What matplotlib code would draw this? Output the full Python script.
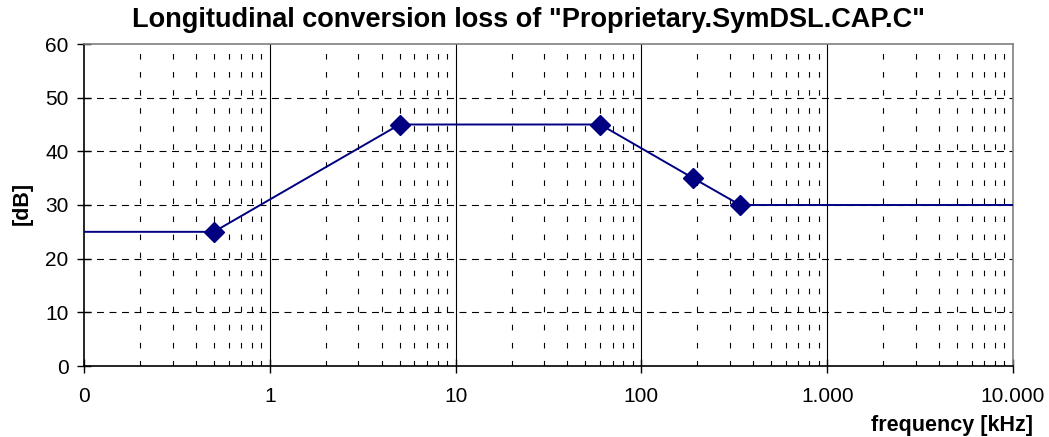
import numpy as np
import matplotlib
matplotlib.use("Agg")
from matplotlib import pyplot as plt
from matplotlib.ticker import FixedLocator, LogLocator, NullFormatter

plt.rcParams['font.family'] = ['Liberation Sans', 'DejaVu Sans']
plt.rcParams['lines.scale_dashes'] = False

# data
freq_khz = [0.1, 0.5, 5, 60, 190, 340, 10000]
loss_db = [25, 25, 45, 45, 35, 30, 30]
marked = [1, 2, 3, 4, 5]  # points that carry a diamond

x_ticks = [0.1, 1, 10, 100, 1000, 10000]
x_labels = ['0', '1', '10', '100', '1.000', '10.000']
y_ticks = [0, 10, 20, 30, 40, 50, 60]

fig = plt.figure(figsize=(10.49, 4.37), dpi=100)
ax = fig.add_axes([84/1049, 1 - 366/437, (1013 - 84)/1049, (366 - 44)/437])

ax.set_xscale('log')
ax.set_xlim(0.1, 10000)
ax.set_ylim(0, 60)

# gridlines
for y in y_ticks[1:-1]:
    ax.axhline(y, color='black', lw=0.8, dashes=(5, 4), zorder=1)
for x in x_ticks[1:-1]:
    ax.axvline(x, color='black', lw=0.8, zorder=1)
minor = LogLocator(base=10, subs=np.arange(2, 10)).tick_values(0.1, 10000)
for x in minor:
    if 0.1 < x < 10000:
        ax.axvline(x, color='black', lw=0.8, dashes=(4, 9), zorder=1)

ax.plot(freq_khz, loss_db, color='#000080', lw=1.4, zorder=3)
ax.plot([freq_khz[i] for i in marked], [loss_db[i] for i in marked],
        ls='none', marker='D', ms=10, color='#000080', zorder=4)

ax.xaxis.set_major_locator(FixedLocator(x_ticks))
ax.set_xticklabels(x_labels)
ax.xaxis.set_minor_locator(FixedLocator([]))
ax.xaxis.set_minor_formatter(NullFormatter())
ax.set_yticks(y_ticks)

ax.tick_params(axis='both', direction='inout', length=10, width=1,
               labelsize=15, colors='black')
ax.tick_params(axis='x', pad=10)
ax.tick_params(axis='y', pad=6)

for s in ['left', 'bottom']:
    ax.spines[s].set_color('black')
    ax.spines[s].set_linewidth(1.2)
for s in ['top', 'right']:
    ax.spines[s].set_color('#808080')
    ax.spines[s].set_linewidth(1.2)

fig.text(529/1049, 1 - 20/437, 'Longitudinal conversion loss of "Proprietary.SymDSL.CAP.C"',
         ha='center', va='center', fontsize=19.5, fontweight='bold')
fig.text(22/1049, 1 - 203/437, '[dB]', rotation=90, ha='center', va='center',
         fontsize=15.5, fontweight='bold')
fig.text(1033/1049, 1 - 425/437, 'frequency [kHz]', ha='right', va='center',
         fontsize=15.5, fontweight='bold')

fig.savefig('out.png', dpi=100)
